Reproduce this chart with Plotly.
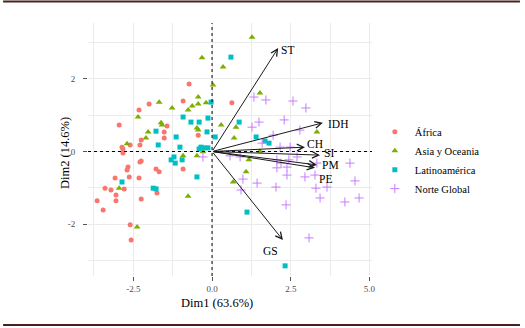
import plotly.graph_objects as go

# ---------------- data (PCA individual coordinates) ----------------
africa_dim1 = [-0.73, -0.92, -2.0, -2.32, -2.95, -1.43, -1.52, -1.52, -2.25, -2.29, -2.60, -2.86,
               -0.44, -2.83, -2.25, -2.29, -2.67, -2.70, -2.63, -1.78, -1.68, -2.32, -3.08, -3.40,
               -3.21, -2.79, -3.05, -3.05, -3.65, -2.25, -3.46, -1.75, -0.92, -2.60, -2.57, -2.83, 0.63]
africa_dim2 = [1.86, 1.39, 1.31, 1.14, 0.73, 0.70, 0.54, 0.37, 0.32, 0.18, 0.18, 0.12,
               0.45, -0.04, -0.26, -0.29, -0.43, -0.51, -0.70, -0.48, -0.56, -0.73, -0.73, -1.01,
               -1.06, -1.03, -1.20, -1.36, -1.36, -1.31, -1.61, -1.14, -0.48, -2.02, -2.44, 0.07, 1.34]

asia_dim1 = [1.27, 0.35, 0.03, -0.32, 1.52, 0.29, 0.76, 0.70, 3.33, 1.52, 1.17, 1.08, 0.67,
             -1.68, -1.27, -2.35, -1.62, -1.59, -0.76, -0.63, -0.44, -0.44, -0.19, -0.48, -0.44,
             -2.03, -2.10, -2.70, -0.29, -0.92, -0.48, -2.95, -0.76, -2.38]
asia_dim2 = [3.15, 2.33, 1.83, 2.58, 1.61, 0.73, 0.67, 0.37, 0.54, 0.01, -0.23, -0.56, -0.84,
             1.36, 1.20, 0.95, 0.79, 0.73, 1.14, 1.25, 1.50, 1.31, 1.34, 0.65, 0.59,
             0.54, 0.37, 0.21, -0.01, -0.12, -0.12, -1.01, -1.23, -2.08]

latam_dim1 = [0.60, -0.03, 0.86, 0.10, 1.40, 1.68, 1.81, 1.11, 2.32, -0.13, -0.92, -0.67, -0.41,
              -0.16, -1.14, -1.78, -1.71, -1.02, -0.35, -0.41, -0.25, -1.30, -1.21, -1.17, -0.95,
              -0.48, -2.86, -1.87, -1.78, -0.13]
latam_dim2 = [2.60, 1.36, 0.81, 0.40, 0.40, 0.29, 0.23, -1.67, -3.15, 0.92, 0.95, 0.81, 0.81,
              0.54, 0.40, 0.56, 0.18, 0.12, 0.12, 0.07, 0.10, -0.23, -0.15, -0.32, -0.23,
              -0.70, -0.84, -1.01, -1.03, 0.10]

norte_dim1 = [1.33, 1.71, 2.57, 2.98, 1.49, 2.29, 1.27, 2.79, 1.94, 1.59, 2.16, 2.48, 0.57, 0.89,
              2.06, 2.19, 2.44, 2.70, 2.06, 2.38, 2.38, 2.95, 3.27, 4.38, 4.54, 1.43, 2.03, 3.30,
              3.65, 0.92, 4.22, 4.67, 2.35, 3.43, -0.29, 0.98, 3.08, 3.33]
norte_dim2 = [1.50, 1.42, 1.39, 1.20, 0.81, 0.87, 0.67, 0.59, 0.45, 0.23, 0.12, 0.12, -0.12, -0.15,
              -0.23, -0.32, -0.23, -0.15, -0.45, -0.43, -0.65, -0.70, -0.65, -0.32, -0.81, -0.87,
              -0.98, -1.01, -0.98, -1.06, -1.39, -1.28, -1.47, -1.28, -0.15, -0.76, -2.38, -0.32]

group_names = ["África", "Asia y Oceania", "Latinoamérica", "Norte Global"]

# variables (loadings scaled into biplot space)
var_names = ["ST", "IDH", "CH", "SI", "PM", "PE", "GS"]
var_dim1 = [2.10, 3.52, 2.95, 3.43, 3.33, 3.27, 2.25]
var_dim2 = [2.85, 0.79, 0.12, -0.10, -0.37, -0.45, -2.44]
var_label_dim1 = [2.41, 4.00, 3.27, 3.71, 3.75, 3.59, 1.87]
var_label_dim2 = [2.80, 0.76, 0.20, -0.05, -0.37, -0.75, -2.74]

x_tick_vals = [-2.5, 0.0, 2.5, 5.0]
x_tick_text = ["-2.5", "0.0", "2.5", "5.0"]
y_tick_vals = [-2, 0, 2]
y_tick_text = ["-2", "0", "2"]
x_minor_vals = [-3.75, -1.25, 1.25, 3.75]
y_minor_vals = [-3, -1, 1, 3]

x_title = "Dim1 (63.6%)"
y_title = "Dim2 (14.6%)"

# ---------------- figure ----------------
SERIF = "Liberation Serif, Times New Roman, serif"
colors = ["#F8766D", "#7CAE00", "#00BFC4", "#C77CFF"]
symbols = ["circle", "triangle-up", "square", "cross-thin"]
sizes = [5, 6, 5, 6.5]

fig = go.Figure()
groups = [(africa_dim1, africa_dim2), (asia_dim1, asia_dim2),
          (latam_dim1, latam_dim2), (norte_dim1, norte_dim2)]
for (gx, gy), name, c, s, sz in zip(groups, group_names, colors, symbols, sizes):
    marker = dict(color=c, symbol=s, size=sz)
    if s == "cross-thin":
        marker["line"] = dict(color=c, width=1)
    else:
        marker["line"] = dict(width=0)
    fig.add_trace(go.Scatter(x=gx, y=gy, mode="markers", name=name, marker=marker))

annotations = []
for n, x, y, lx, ly in zip(var_names, var_dim1, var_dim2, var_label_dim1, var_label_dim2):
    annotations.append(dict(x=x, y=y, ax=0, ay=0, xref="x", yref="y", axref="x", ayref="y",
                            text="", showarrow=True, arrowhead=5, arrowsize=1.3,
                            arrowwidth=1, arrowcolor="#1a1a1a", standoff=0))
    annotations.append(dict(x=lx, y=ly, xref="x", yref="y", text=n, showarrow=False,
                            font=dict(family=SERIF, size=11.5, color="black")))

annotations.append(dict(x=0.454, y=-0.107, xref="paper", yref="paper", text=x_title,
                        showarrow=False, font=dict(family=SERIF, size=12.5, color="black"),
                        xanchor="center", yanchor="middle"))
annotations.append(dict(x=-0.081, y=0.486, xref="paper", yref="paper", text=y_title,
                        showarrow=False, textangle=-90,
                        font=dict(family=SERIF, size=12.5, color="black"),
                        xanchor="center", yanchor="middle"))

shapes = [
    dict(type="line", xref="x", yref="paper", x0=0, x1=0, y0=0, y1=1,
         line=dict(color="black", width=1, dash="3px,3px"), layer="above"),
    dict(type="line", xref="paper", yref="y", x0=0, x1=1, y0=0, y1=0,
         line=dict(color="black", width=1, dash="3px,3px"), layer="above"),
    dict(type="line", xref="paper", yref="paper", x0=-0.299, x1=1.521, y0=1.085, y1=1.085,
         line=dict(color="#4b2020", width=2)),
    dict(type="line", xref="paper", yref="paper", x0=-0.299, x1=1.521, y0=-0.194, y1=-0.194,
         line=dict(color="#4b2020", width=2)),
]

axis_common = dict(showline=False, zeroline=False, ticks="outside", ticklen=4,
                   tickcolor="#555555", tickwidth=1, gridcolor="#ebebeb", gridwidth=1,
                   tickfont=dict(family=SERIF, size=9, color="#4d4d4d"))

fig.update_layout(
    width=525, height=328,
    margin=dict(l=88, r=153, t=23, b=52),
    paper_bgcolor="white", plot_bgcolor="white",
    font=dict(family=SERIF, color="black"),
    xaxis=dict(range=[-3.94, 5.08], tickmode="array", tickvals=x_tick_vals, ticktext=x_tick_text,
               minor=dict(tickmode="array", tickvals=x_minor_vals, showgrid=True,
                          gridcolor="#ebebeb", gridwidth=0.6, ticks=""),
               **axis_common),
    yaxis=dict(range=[-3.43, 3.54], tickmode="array", tickvals=y_tick_vals, ticktext=y_tick_text,
               ticklabelstandoff=6,
               minor=dict(tickmode="array", tickvals=y_minor_vals, showgrid=True,
                          gridcolor="#ebebeb", gridwidth=0.6, ticks=""),
               **axis_common),
    legend=dict(x=1.01, xanchor="left", y=0.458, yanchor="middle",
                font=dict(family=SERIF, size=10.5, color="black"),
                bgcolor="rgba(0,0,0,0)", borderwidth=0),
    annotations=annotations,
    shapes=shapes,
    showlegend=True,
)

fig.write_html("out.html", config={"displayModeBar": False},
               post_script="document.body.style.margin='0';document.body.style.overflow='hidden';")
